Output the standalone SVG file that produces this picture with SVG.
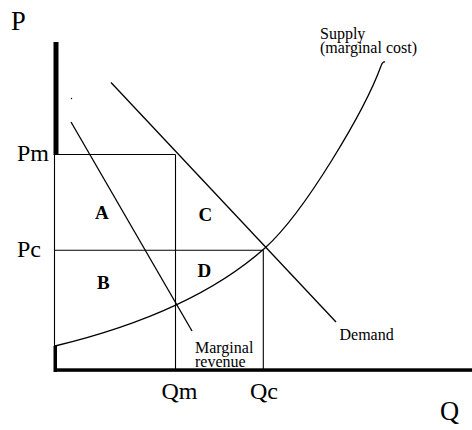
<svg xmlns="http://www.w3.org/2000/svg" width="472" height="430" viewBox="0 0 472 430">
<style>
.ln{fill:none;stroke:#000;stroke-width:1.3}
.bx{fill:none;stroke:#000;stroke-width:1.1}
.big{font-family:"Liberation Serif",serif;font-size:24px;fill:#000}
.huge{font-family:"Liberation Serif",serif;font-size:26.5px;fill:#000}
.lab{font-family:"Liberation Serif",serif;font-size:19px;font-weight:bold;fill:#000}
.sm{font-family:"Liberation Serif",serif;font-size:16px;fill:#000}
</style>
<rect width="472" height="430" fill="#fff"/>
<g id="axes">
<rect x="53.5" y="42" width="5" height="113" fill="#000"/>
<line x1="54.5" y1="155" x2="54.5" y2="347" stroke="#000" stroke-width="1.1"/>
<rect x="53.5" y="346" width="3.5" height="26" fill="#000"/>
<rect x="54" y="368.3" width="418" height="3.5" fill="#000"/>
<text class="huge" x="11" y="29.5">P</text>
<text class="huge" x="440" y="420">Q</text>
</g>
<g id="price-lines">
<line class="bx" x1="55" y1="154.5" x2="175.5" y2="154.5"/>
<line class="bx" x1="55" y1="250.3" x2="263.3" y2="250.3"/>
<line class="bx" x1="175.5" y1="154.5" x2="175.5" y2="370"/>
<line class="bx" x1="263.3" y1="250.3" x2="263.3" y2="370"/>
<text class="big" x="17" y="161">Pm</text>
<text class="big" x="17" y="257">Pc</text>
<text class="big" x="161.5" y="398.5">Qm</text>
<text class="big" x="250" y="398.5">Qc</text>
</g>
<g id="connectors">
<line id="demand" class="ln" x1="111" y1="82.5" x2="336" y2="322"/>
<line id="marginal-revenue" class="ln" x1="71" y1="122" x2="192" y2="331"/>
<path id="supply" class="ln" d="M55,346 Q192,313 265,248 C305,212 365,110 381,66 Q382.5,61.5 385,62"/>
<circle cx="71.5" cy="98.5" r="0.7" fill="#000"/>
</g>
<g id="areas">
<text class="lab" x="95" y="219">A</text>
<text class="lab" x="198.5" y="221">C</text>
<text class="lab" x="97" y="289">B</text>
<text class="lab" x="197.5" y="277">D</text>
</g>
<g id="curve-labels">
<text class="sm" x="320" y="39.3">Supply</text>
<text class="sm" x="320" y="53.3">(marginal cost)</text>
<text class="sm" x="195" y="352.7">Marginal</text>
<text class="sm" x="195" y="366.7">revenue</text>
<text class="sm" x="339.5" y="340">Demand</text>
</g>
</svg>
